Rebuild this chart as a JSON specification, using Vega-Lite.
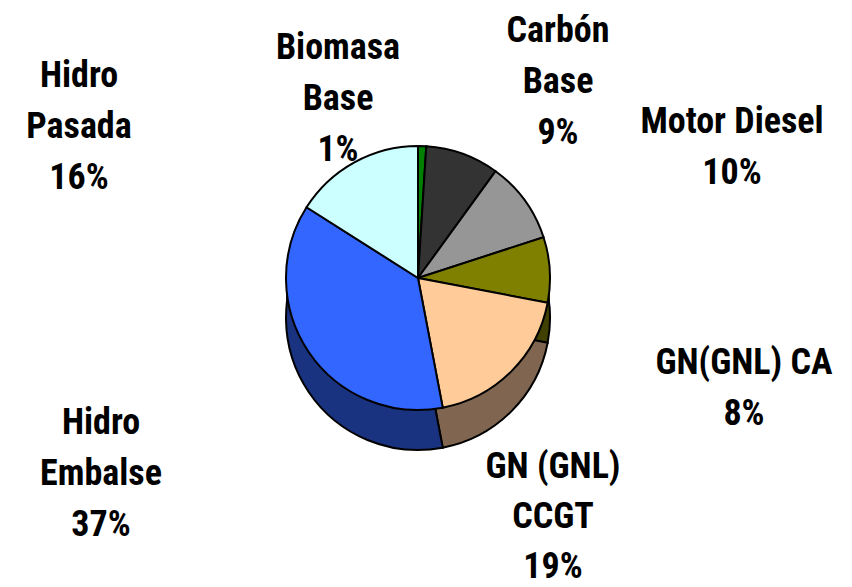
{
  "$schema": "https://vega.github.io/schema/vega-lite/v6.json",
  "width": 852,
  "height": 587,
  "autosize": {"type": "none"},
  "padding": 0,
  "background": "white",
  "config": {"view": {"stroke": null}},
  "data": {
    "values": [
      {"i": 1, "fuente": "Biomasa\nBase", "valor": 1},
      {"i": 2, "fuente": "Carbón\nBase", "valor": 9},
      {"i": 3, "fuente": "Motor Diesel", "valor": 10},
      {"i": 4, "fuente": "GN(GNL) CA", "valor": 8},
      {"i": 5, "fuente": "GN (GNL)\nCCGT", "valor": 19},
      {"i": 6, "fuente": "Hidro\nEmbalse", "valor": 37},
      {"i": 7, "fuente": "Hidro\nPasada", "valor": 16}
    ]
  },
  "transform": [
    {"calculate": "datum.fuente + '\\n' + datum.valor + '%'", "as": "etiqueta"}
  ],
  "layer": [
    {
      "mark": {"type": "arc", "radius": 132, "xOffset": -8, "yOffset": -5.5, "strokeWidth": 0},
      "encoding": {
        "theta": {"field": "valor", "type": "quantitative", "stack": true},
        "order": {"field": "i", "type": "quantitative"},
        "color": {"field": "i", "type": "nominal", "legend": null,
          "scale": {"domain": [1, 2, 3, 4, 5, 6, 7], "range": ["#004000", "#1a1a1a", "#4b4b4b", "#404000", "#806650", "#1a3380", "#668080"]}}
      }
    },
    {
      "mark": {"type": "arc", "radius": 132, "xOffset": -8, "yOffset": 4.5, "strokeWidth": 0},
      "encoding": {
        "theta": {"field": "valor", "type": "quantitative", "stack": true},
        "order": {"field": "i", "type": "quantitative"},
        "color": {"field": "i", "type": "nominal", "legend": null,
          "scale": {"domain": [1, 2, 3, 4, 5, 6, 7], "range": ["#004000", "#1a1a1a", "#4b4b4b", "#404000", "#806650", "#1a3380", "#668080"]}}
      }
    },
    {
      "mark": {"type": "arc", "radius": 132, "xOffset": -8, "yOffset": 14.5, "strokeWidth": 0},
      "encoding": {
        "theta": {"field": "valor", "type": "quantitative", "stack": true},
        "order": {"field": "i", "type": "quantitative"},
        "color": {"field": "i", "type": "nominal", "legend": null,
          "scale": {"domain": [1, 2, 3, 4, 5, 6, 7], "range": ["#004000", "#1a1a1a", "#4b4b4b", "#404000", "#806650", "#1a3380", "#668080"]}}
      }
    },
    {
      "mark": {"type": "arc", "radius": 132, "xOffset": -8, "yOffset": 24.5, "stroke": "black", "strokeWidth": 2},
      "encoding": {
        "theta": {"field": "valor", "type": "quantitative", "stack": true},
        "order": {"field": "i", "type": "quantitative"},
        "color": {"field": "i", "type": "nominal", "legend": null,
          "scale": {"domain": [1, 2, 3, 4, 5, 6, 7], "range": ["#004000", "#1a1a1a", "#4b4b4b", "#404000", "#806650", "#1a3380", "#668080"]}}
      }
    },
    {
      "mark": {"type": "arc", "radius": 132, "xOffset": -8, "yOffset": -15.5, "stroke": "black", "strokeWidth": 2},
      "encoding": {
        "theta": {"field": "valor", "type": "quantitative", "stack": true},
        "order": {"field": "i", "type": "quantitative"},
        "fill": {"field": "i", "type": "nominal", "legend": null,
          "scale": {"domain": [1, 2, 3, 4, 5, 6, 7], "range": ["#008000", "#333333", "#969696", "#808000", "#ffcc99", "#3366ff", "#ccffff"]}}
      }
    },
    {
      "transform": [{"filter": "datum.i == 1"}],
      "mark": {"type": "text", "dx": -88, "dy": -245.5, "align": "center", "baseline": "middle", "lineBreak": "\n", "lineHeight": 51, "font": "Roboto Condensed, Roboto, sans-serif", "fontWeight": "bold", "fontSize": 36, "color": "black"},
      "encoding": {"text": {"field": "etiqueta"}}
    },
    {
      "transform": [{"filter": "datum.i == 2"}],
      "mark": {"type": "text", "dx": 132, "dy": -262.5, "align": "center", "baseline": "middle", "lineBreak": "\n", "lineHeight": 51, "font": "Roboto Condensed, Roboto, sans-serif", "fontWeight": "bold", "fontSize": 36, "color": "black"},
      "encoding": {"text": {"field": "etiqueta"}}
    },
    {
      "transform": [{"filter": "datum.i == 3"}],
      "mark": {"type": "text", "dx": 306, "dy": -171.5, "align": "center", "baseline": "middle", "lineBreak": "\n", "lineHeight": 51, "font": "Roboto Condensed, Roboto, sans-serif", "fontWeight": "bold", "fontSize": 36, "color": "black"},
      "encoding": {"text": {"field": "etiqueta"}}
    },
    {
      "transform": [{"filter": "datum.i == 4"}],
      "mark": {"type": "text", "dx": 318, "dy": 69.5, "align": "center", "baseline": "middle", "lineBreak": "\n", "lineHeight": 51, "font": "Roboto Condensed, Roboto, sans-serif", "fontWeight": "bold", "fontSize": 36, "color": "black"},
      "encoding": {"text": {"field": "etiqueta"}}
    },
    {
      "transform": [{"filter": "datum.i == 5"}],
      "mark": {"type": "text", "dx": 127, "dy": 173, "align": "center", "baseline": "middle", "lineBreak": "\n", "lineHeight": 50, "font": "Roboto Condensed, Roboto, sans-serif", "fontWeight": "bold", "fontSize": 36, "color": "black"},
      "encoding": {"text": {"field": "etiqueta"}}
    },
    {
      "transform": [{"filter": "datum.i == 6"}],
      "mark": {"type": "text", "dx": -325, "dy": 129.5, "align": "center", "baseline": "middle", "lineBreak": "\n", "lineHeight": 51, "font": "Roboto Condensed, Roboto, sans-serif", "fontWeight": "bold", "fontSize": 36, "color": "black"},
      "encoding": {"text": {"field": "etiqueta"}}
    },
    {
      "transform": [{"filter": "datum.i == 7"}],
      "mark": {"type": "text", "dx": -347, "dy": -217.5, "align": "center", "baseline": "middle", "lineBreak": "\n", "lineHeight": 51, "font": "Roboto Condensed, Roboto, sans-serif", "fontWeight": "bold", "fontSize": 36, "color": "black"},
      "encoding": {"text": {"field": "etiqueta"}}
    }
  ],
  "resolve": {"scale": {"color": "independent", "fill": "independent"}}
}
